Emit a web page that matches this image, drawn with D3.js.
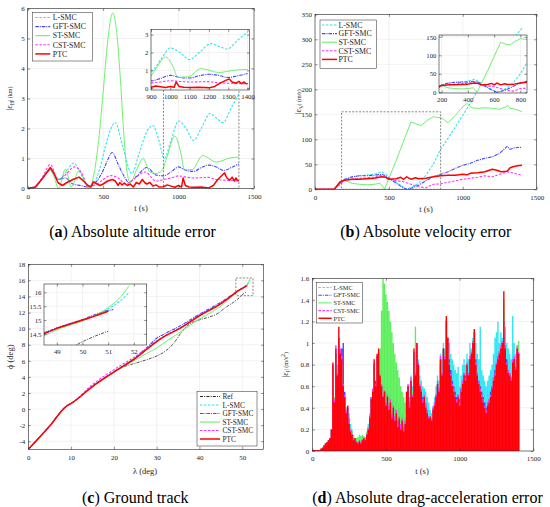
<!DOCTYPE html>
<html>
<head>
<meta charset="utf-8">
<script src="https://cdn.jsdelivr.net/npm/d3@7"></script>
<style>
  body { margin: 0; background: #fff; }
</style>
</head>
<body>
<svg width="550" height="507" font-family="Liberation Serif"></svg>
<script>
// ---- (a) altitude error, km ----
var altT_L = [0,40,100,150,210,260,305,350,400,440,480,520,580,630,690,740,790,830,870,905,950,1000,1050,1100,1150,1210,1250,1295,1350,1400];
var altV_L = [0,0,0.35,0.6,0.3,0.6,0.85,0.5,0.1,0.2,0.7,1.5,2.2,1.4,0.5,1.2,1.9,2.1,1.6,1.0,1.6,2.25,2.0,1.6,2.0,2.5,2.35,2.2,2.7,3.15];
var altT_G = [0,50,100,150,200,250,300,350,400,450,500,530,560,600,640,670,720,790,850,900,950,1000,1050,1100,1150,1200,1250,1300,1350,1400];
var altV_G = [0,0.05,0.35,0.62,0.3,0.35,0.15,0.1,0.05,0.2,0.6,0.95,1.2,0.8,0.4,0.2,0.4,0.7,0.45,0.42,0.55,0.72,0.6,0.57,0.7,0.78,0.72,0.6,0.7,0.82];
var altT_S = [0,50,100,150,180,205,250,290,340,405,440,470,500,530,564,590,615,640,660,680,720,765,810,850,890,920,975,1010,1040,1090,1160,1250,1340,1400];
var altV_S = [0,0.05,0.35,0.63,0.3,0,0.65,0.05,0.6,0,0.5,1.6,3.2,4.9,5.85,5.2,3.6,1.6,0.5,0.2,0.6,1.0,0.55,0.5,0.6,1.0,1.75,1.3,0.62,0.63,1.1,0.88,1.02,1.05];
var altT_C = [0,50,100,150,200,250,310,360,400,450,500,550,600,650,700,780,850,900,950,1000,1050,1100,1200,1250,1300,1400];
var altV_C = [0,0.05,0.4,0.8,0.3,0.45,0.72,0.5,0.05,0.12,0.3,0.43,0.35,0.15,0.3,0.55,0.25,0.3,0.35,0.42,0.38,0.35,0.37,0.3,0.28,0.25];
var altT_P = [0,50,100,150,175,200,230,260,300,340,370,400,420,435,460,480,500,530,560,580,600,610,625,640,660,680,700,720,740,760,775,790,810,830,850,870,900,925,950,975,1000,1020,1030,1045,1070,1100,1150,1200,1230,1260,1290,1305,1320,1340,1355,1370,1380,1390,1400];
var altV_P = [0,0.05,0.35,0.7,0.5,0.2,0.1,0.2,0.3,0.38,0.25,0.1,0.05,0.22,0.15,0.1,0.15,0.25,0.3,0.25,0.1,0.2,0.12,0.18,0.1,0.15,0.05,0.2,0.15,0.3,0.2,0.15,0.2,0.08,0.12,0.05,0.06,0.12,0.08,0.04,0.1,0.05,0.35,0.1,0.05,0.04,0.05,0.02,0.1,0.3,0.45,0.52,0.35,0.28,0.38,0.25,0.35,0.27,0.25];

// ---- (b) velocity error, m/s ----
var velT_L = [0,130,170,200,300,400,450,480,520,560,600,620,660,700,750,800,850,900,950,1000,1050,1100,1200,1300,1400];
var velV_L = [0,0,12,20,27,30,35,30,20,12,4,0,5,12,28,50,80,102,125,148,172,197,245,288,322];
var velT_G = [0,130,170,200,250,300,350,400,450,480,520,560,600,620,650,700,750,800,850,900,950,1000,1050,1100,1150,1200,1250,1300,1320,1350,1400];
var velV_G = [0,0,12,20,25,27,27,28,30,27,18,10,3,0,2,8,17,25,30,35,42,48,52,58,62,65,72,86,80,83,84];
var velT_S = [0,130,170,200,250,300,350,400,440,460,470,500,550,600,650,690,720,760,800,850,870,900,950,1000,1030,1060,1100,1150,1200,1250,1290,1305,1320,1360,1400];
var velV_S = [0,0,12,18,12,10,9,10,12,5,0,22,58,97,135,130,128,138,145,143,140,133,148,165,172,163,162,163,162,160,165,168,162,160,155];
var velT_C = [0,130,170,200,300,400,450,500,550,600,650,700,750,800,850,900,950,1000,1050,1100,1150,1200,1250,1300,1350,1400];
var velV_C = [0,0,10,18,22,24,28,20,17,15,10,5,3,10,11,14,17,20,22,24,27,25,30,35,32,28];
var velT_P = [0,130,170,200,250,300,350,400,450,480,500,550,580,600,620,650,680,700,750,800,850,900,950,1000,1030,1050,1100,1150,1200,1230,1260,1300,1320,1340,1370,1400];
var velV_P = [0,0,15,18,20,20,21,22,25,24,20,21,24,20,25,20,23,21,22,25,27,28,28,30,29,32,33,35,40,38,35,36,43,45,47,48];

// ---- (c) ground track, deg ----
var gtLam_R = [0,5,9,10,15,20,22,25,28,30,32,34,36,38,40,42,44,46,48,49,50,51];
var gtPhi_R = [-5,-2.1,0.4,0.7,2.8,4.6,5.2,5.7,6.2,6.6,7.2,8.2,9.7,10.7,11.1,11.4,11.8,12.6,13.3,13.7,14.22,14.6];
var gtLam_L = [0,5,9,10,15,20,25,30,32,35,40,45,48,49,50,50.5,51,51.5,51.8];
var gtPhi_L = [-5,-2.1,0.4,0.7,2.85,4.65,6.35,8.5,9.15,10.0,11.7,13.15,14.3,14.7,15.0,15.18,15.4,15.72,15.98];
var gtLam_G = [0,5,9,10,15,20,25,28,30,32,35,40,45,48,49,50,50.5,51,51.2];
var gtPhi_G = [-5,-2.1,0.4,0.7,2.85,4.65,6.4,7.8,8.8,9.4,10.2,11.8,13.3,14.35,14.72,15.02,15.2,15.34,15.38];
var gtLam_S = [0,5,9,10,15,20,25,28,30,33,35,38,40,43,45,48,49,50,50.5,51,51.5,51.8];
var gtPhi_S = [-5,-2.1,0.4,0.7,2.8,4.6,6.1,7.0,7.6,8.7,9.4,10.5,11.2,12.1,12.8,14.2,14.65,14.97,15.17,15.45,15.85,16.22];
var gtLam_C = [0,5,9,10,15,20,25,30,32,35,40,45,48,49,50,50.5,51];
var gtPhi_C = [-5,-2.1,0.4,0.7,3.05,4.9,6.55,8.45,9.1,9.95,11.65,13.1,14.3,14.7,15.0,15.16,15.32];
var gtLam_P = [0,5,9,10,15,20,25,30,32,35,40,45,48,49,50,50.5,51];
var gtPhi_P = [-5,-2.1,0.4,0.7,2.8,4.6,6.3,8.4,9.1,9.9,11.6,13.1,14.3,14.7,15.0,15.15,15.32];

// ---- (d) drag-acceleration error, m/s^2, one value every 10 s ----
var dragT = d3.range(0, 1401, 10);
var dragL = [0.01,0.01,0.01,0.01,0.01,0.01,0.02,0.03,0.05,0.07,
  0.08,0.1,0.12,0.2,0.8,0.5,0.9,0.8,1.05,0.9,
  0.8,0.6,0.45,0.4,0.4,0.35,0.25,0.2,0.15,0.12,
  0.1,0.08,0.1,0.1,0.12,0.13,0.12,0.18,0.25,0.35,
  0.5,0.55,0.8,0.65,0.85,0.9,0.7,0.6,0.55,0.58,
  0.5,0.52,0.45,0.5,0.42,0.45,0.35,0.4,0.3,0.32,
  0.28,0.3,0.25,0.3,0.55,0.6,0.5,0.7,0.6,0.9,
  0.75,0.95,0.85,0.7,0.65,0.6,0.58,0.55,0.5,0.45,
  0.38,0.35,0.42,0.5,0.6,0.7,0.65,0.9,0.85,1.0,
  0.95,1.2,1.05,1.0,0.9,0.85,0.8,0.75,0.72,0.78,
  0.6,0.7,0.8,0.85,0.8,0.9,0.85,1.0,0.95,1.05,
  1.1,1.0,0.9,0.85,1.15,0.75,0.7,0.65,0.6,0.65,
  0.7,0.75,0.8,0.9,1.05,1.1,1.2,1.0,1.1,1.05,
  1.3,1.15,1.0,0.95,0.9,0.85,1.25,1.0,0.9,0.85,
  0.8];
var dragG = [0.01,0.01,0.01,0.01,0.01,0.01,0.02,0.03,0.05,0.07,
  0.08,0.1,0.12,0.2,0.78,0.5,0.9,0.75,1.05,0.9,
  0.95,1.0,0.55,0.4,0.4,0.3,0.2,0.15,0.12,0.1,
  0.08,0.07,0.09,0.08,0.1,0.12,0.12,0.16,0.22,0.32,
  0.5,0.55,0.8,0.65,0.88,0.9,0.72,0.65,0.6,0.6,
  0.55,0.6,0.5,0.55,0.45,0.5,0.4,0.45,0.38,0.4,
  0.32,0.35,0.3,0.3,0.5,0.6,0.45,0.62,0.5,0.9,
  0.7,0.95,0.8,0.6,0.55,0.5,0.5,0.42,0.38,0.32,
  0.3,0.3,0.4,0.45,0.52,0.6,0.58,0.8,0.72,0.92,
  0.9,1.2,1.0,0.85,0.75,0.65,0.6,0.55,0.5,0.52,
  0.48,0.58,0.65,0.72,0.7,0.78,0.72,0.85,0.88,0.95,
  1.1,0.85,0.72,0.65,0.6,0.55,0.5,0.45,0.4,0.45,
  0.48,0.55,0.6,0.68,0.75,0.8,0.88,0.92,0.95,1.0,
  1.1,0.98,0.85,0.75,0.72,0.68,0.8,0.85,0.78,0.92,
  0.9];
var dragS = [0.01,0.01,0.01,0.01,0.01,0.01,0.02,0.03,0.05,0.07,
  0.08,0.1,0.12,0.2,0.75,0.5,0.9,0.75,1.0,0.85,
  0.8,0.55,0.45,0.4,0.38,0.3,0.22,0.18,0.14,0.12,
  0.12,0.13,0.15,0.14,0.15,0.14,0.13,0.18,0.22,0.3,
  0.45,0.5,0.7,0.6,0.8,0.85,0.95,1.3,1.6,1.55,
  1.45,1.38,1.3,1.2,1.1,1.0,0.9,0.82,0.75,0.68,
  0.6,0.55,0.5,0.45,0.4,0.35,0.45,0.6,0.55,0.9,
  1.15,1.0,0.8,0.6,0.55,0.45,0.5,0.4,0.35,0.3,
  0.32,0.28,0.38,0.42,0.5,0.62,0.55,0.85,0.7,0.95,
  0.9,1.2,1.0,0.8,0.7,0.6,0.55,0.5,0.45,0.5,
  0.42,0.55,0.62,0.7,0.65,0.8,0.7,0.85,0.9,1.0,
  1.1,0.8,0.7,0.62,0.55,0.5,0.45,0.4,0.35,0.42,
  0.45,0.5,0.58,0.65,0.7,0.8,0.85,0.9,0.95,1.0,
  1.4,0.95,0.8,0.72,0.7,0.65,0.82,0.85,0.75,0.95,
  1.02];
var dragC = [0.01,0.01,0.01,0.01,0.01,0.01,0.02,0.03,0.05,0.07,
  0.08,0.1,0.12,0.2,0.8,0.48,0.98,0.72,1.0,0.95,
  0.88,0.62,0.52,0.38,0.42,0.3,0.2,0.16,0.12,0.11,
  0.09,0.08,0.1,0.08,0.11,0.12,0.11,0.16,0.21,0.3,
  0.5,0.58,0.82,0.62,0.88,0.92,0.68,0.62,0.52,0.56,
  0.45,0.52,0.42,0.48,0.35,0.42,0.32,0.38,0.28,0.32,
  0.25,0.3,0.22,0.28,0.55,0.62,0.45,0.68,0.52,0.92,
  0.72,1.0,0.82,0.62,0.58,0.48,0.52,0.45,0.38,0.32,
  0.3,0.3,0.4,0.45,0.52,0.65,0.58,0.88,0.72,0.95,
  0.88,1.22,1.05,0.82,0.72,0.62,0.58,0.52,0.48,0.52,
  0.45,0.58,0.65,0.72,0.68,0.82,0.72,0.88,0.92,1.02,
  1.12,0.82,0.72,0.65,0.58,0.52,0.48,0.42,0.38,0.45,
  0.48,0.52,0.6,0.68,0.72,0.82,0.88,0.92,0.98,1.02,
  1.2,0.98,0.82,0.75,0.72,0.68,0.85,0.88,0.78,0.98,
  0.92];
var dragP = [0.01,0.01,0.01,0.01,0.01,0.01,0.02,0.03,0.05,0.07,
  0.08,0.1,0.12,0.2,0.82,0.45,0.95,0.7,1.15,0.9,
  0.85,0.6,0.5,0.35,0.42,0.25,0.18,0.15,0.1,0.12,
  0.08,0.07,0.09,0.07,0.1,0.12,0.1,0.15,0.2,0.3,
  0.48,0.55,0.85,0.6,0.9,0.95,0.7,0.6,0.5,0.55,
  0.42,0.5,0.38,0.45,0.3,0.4,0.28,0.35,0.22,0.3,
  0.2,0.28,0.18,0.25,0.55,0.6,0.4,0.65,0.5,0.95,
  0.7,1.0,0.8,0.6,0.55,0.45,0.5,0.4,0.35,0.3,
  0.32,0.28,0.38,0.42,0.5,0.62,0.55,0.85,0.7,0.95,
  0.85,1.25,1.05,0.8,0.7,0.6,0.55,0.5,0.45,0.5,
  0.42,0.55,0.62,0.7,0.65,0.8,0.7,0.85,0.9,1.0,
  1.13,0.8,0.7,0.62,0.55,0.5,0.45,0.4,0.35,0.42,
  0.45,0.5,0.58,0.65,0.7,0.8,0.85,0.9,0.95,1.0,
  1.48,0.95,0.8,0.72,0.7,0.65,0.82,0.85,0.75,0.95,
  0.9];

var FONT = "Liberation Serif";
var INK = "#262626";

var styles = {
  R:   {name: "Ref",     color: "#222222", dash: "3,1.2,1,1.2", w: 0.8},
  L:   {name: "L-SMC",   color: "#2fe6f2", dash: "2.5,1.5",     w: 1.1},
  G:   {name: "GFT-SMC", color: "#4646ff", dash: "3.5,1,1,1",   w: 1.1},
  S:   {name: "ST-SMC",  color: "#5cef5c", dash: null,          w: 0.9},
  C:   {name: "CST-SMC", color: "#ff35ff", dash: "2.5,1.5",     w: 1.1},
  P:   {name: "PTC",     color: "#ff0000", dash: null,          w: 1.5}
};

var svg = d3.select("svg");
var clipN = 0;

// MATLAB-like axes: white bg, grid, lines group, box with inward ticks
function axes(o) {
  var x = d3.scaleLinear().domain(o.xd).range([o.x0, o.x1]);
  var y = d3.scaleLinear().domain(o.yd).range([o.y0, o.y1]);
  var g = svg.append("g");
  var id = "clip" + (clipN++);
  g.append("clipPath").attr("id", id).append("rect")
    .attr("x", o.x0).attr("y", o.y1).attr("width", o.x1 - o.x0).attr("height", o.y0 - o.y1);
  g.append("rect").attr("x", o.x0).attr("y", o.y1).attr("width", o.x1 - o.x0).attr("height", o.y0 - o.y1)
    .attr("fill", "#fff");
  var grid = g.append("g").attr("stroke", "#e4e4e4").attr("stroke-width", 0.5);
  grid.selectAll(".gx").data(o.xt).join("line")
    .attr("x1", x).attr("x2", x).attr("y1", o.y0).attr("y2", o.y1);
  grid.selectAll(".gy").data(o.yt).join("line")
    .attr("y1", y).attr("y2", y).attr("x1", o.x0).attr("x2", o.x1);
  var plot = g.append("g").attr("clip-path", "url(#" + id + ")");
  var a = g.append("g");
  var fmt = function (d) { return String(d); };
  var none = function () { return ""; };
  var tk = o.tk || 2.5;
  a.append("g").attr("transform", "translate(0," + o.y0 + ")")
    .call(d3.axisBottom(x).tickValues(o.xt).tickFormat(fmt).tickSizeInner(-tk).tickSizeOuter(0).tickPadding(o.px || 5.5));
  a.append("g").attr("transform", "translate(0," + o.y1 + ")")
    .call(d3.axisTop(x).tickValues(o.xt).tickFormat(none).tickSizeInner(-tk).tickSizeOuter(0));
  a.append("g").attr("transform", "translate(" + o.x0 + ",0)")
    .call(d3.axisLeft(y).tickValues(o.yt).tickFormat(fmt).tickSizeInner(-tk).tickSizeOuter(0).tickPadding(o.py || 3));
  a.append("g").attr("transform", "translate(" + o.x1 + ",0)")
    .call(d3.axisRight(y).tickValues(o.yt).tickFormat(none).tickSizeInner(-tk).tickSizeOuter(0));
  a.selectAll(".domain").remove();
  a.selectAll("g").attr("font-family", FONT);
  a.selectAll("line").attr("stroke", INK).attr("stroke-width", 0.5);
  a.selectAll("text").attr("font-family", FONT).attr("font-size", o.fs || 7).attr("fill", INK);
  a.append("rect").attr("x", o.x0).attr("y", o.y1).attr("width", o.x1 - o.x0).attr("height", o.y0 - o.y1)
    .attr("fill", "none").attr("stroke", INK).attr("stroke-width", 0.6);
  return {x: x, y: y, plot: plot, g: g};
}

function series(ax, key, xs, ys, curve) {
  var s = styles[key];
  var line = d3.line().x(function (d) { return ax.x(d[0]); }).y(function (d) { return ax.y(d[1]); })
    .curve(curve || d3.curveMonotoneX);
  ax.plot.append("path").datum(d3.zip(xs, ys)).attr("d", line)
    .attr("fill", "none").attr("stroke", s.color).attr("stroke-width", s.w)
    .attr("stroke-dasharray", s.dash).attr("stroke-linejoin", "round");
}

function stems(ax, key, xs, ys) {
  var s = styles[key];
  var d = d3.zip(xs, ys).map(function (p) {
    return "M" + ax.x(p[0]) + "," + ax.y(0) + "V" + ax.y(p[1]);
  }).join("");
  ax.plot.append("path").attr("d", d).attr("stroke", s.color).attr("stroke-width", 1.4).attr("fill", "none");
}

function dashBox(ax, x0, x1, y0, y1) {
  ax.plot.append("rect")
    .attr("x", ax.x(x0)).attr("y", ax.y(y1))
    .attr("width", ax.x(x1) - ax.x(x0)).attr("height", ax.y(y0) - ax.y(y1))
    .attr("fill", "none").attr("stroke", "#555").attr("stroke-width", 0.7).attr("stroke-dasharray", "2,1.5");
}

function legend(o, keys) {
  var g = svg.append("g");
  g.append("rect").attr("x", o.x).attr("y", o.y).attr("width", o.w).attr("height", o.h)
    .attr("fill", "#fff").attr("stroke", INK).attr("stroke-width", 0.5);
  keys.forEach(function (k, i) {
    var s = styles[k], yy = o.y + o.top + i * o.dy;
    g.append("line").attr("x1", o.x + o.l1).attr("x2", o.x + o.l2).attr("y1", yy).attr("y2", yy)
      .attr("stroke", s.color).attr("stroke-width", Math.max(s.w, 1)).attr("stroke-dasharray", s.dash);
    g.append("text").attr("x", o.x + o.tx).attr("y", yy).attr("dy", "0.35em")
      .attr("font-family", FONT).attr("fill", INK).attr("font-size", o.fs).text(s.name);
  });
}

function xLabel(x, y, txt) {
  svg.append("text").attr("x", x).attr("y", y).attr("text-anchor", "middle")
    .attr("font-family", FONT).attr("fill", INK).attr("font-size", 8.5).text(txt);
}

function yLabel(x, y, parts) {
  var t = svg.append("text").attr("transform", "translate(" + x + "," + y + ") rotate(-90)")
    .attr("text-anchor", "middle").attr("font-family", FONT).attr("fill", INK).attr("font-size", 8.5);
  parts.forEach(function (p) {
    var sp = t.append("tspan").text(p[0]);
    if (p[1]) sp.attr("dy", p[1]).attr("font-size", 6);
    if (p[2]) sp.attr("dy", p[2]);
  });
}

function caption(cx, by, letter, rest) {
  var t = svg.append("text").attr("x", cx).attr("y", by).attr("text-anchor", "middle")
    .attr("font-family", FONT).attr("fill", "#000").attr("font-size", 16);
  t.append("tspan").text("(");
  t.append("tspan").attr("font-weight", "bold").text(letter);
  t.append("tspan").text(") " + rest);
}

var order5 = ["L", "G", "S", "C", "P"];

// ---------- (a) ----------
var A = axes({x0: 27.7, x1: 254, y0: 188.5, y1: 8.5, xd: [0, 1500], yd: [0, 6],
  xt: [0, 500, 1000, 1500], yt: [0, 1, 2, 3, 4, 5, 6]});
var altData = {L: [altT_L, altV_L], G: [altT_G, altV_G], S: [altT_S, altV_S], C: [altT_C, altV_C], P: [altT_P, altV_P]};
order5.forEach(function (k) { series(A, k, altData[k][0], altData[k][1], k === "P" ? d3.curveLinear : null); });
dashBox(A, 900, 1400, 0, 3.3);
legend({x: 32.3, y: 12.3, w: 60, h: 48.7, top: 5.2, dy: 9.1, l1: 3, l2: 18, tx: 20.5, fs: 7.8}, order5);
var Ai = axes({x0: 151, x1: 249.5, y0: 90, y1: 29.3, xd: [900, 1410], yd: [-0.1, 3.3],
  xt: [900, 1000, 1100, 1200, 1300, 1400], yt: [0, 1, 2, 3], px: 4, py: 2.5, fs: 6.8});
order5.forEach(function (k) { series(Ai, k, altData[k][0], altData[k][1], k === "P" ? d3.curveLinear : null); });
xLabel(141, 211, "t (s)");
yLabel(12, 98.5, [["|ε"], ["H", 2], ["| (km)", -2]]);
caption(132.5, 237, "a", "Absolute altitude error");

// ---------- (b) ----------
var B = axes({x0: 315, x1: 536.7, y0: 189.3, y1: 14.3, xd: [0, 1500], yd: [0, 350],
  xt: [0, 500, 1000, 1500], yt: [0, 50, 100, 150, 200, 250, 300, 350]});
var velData = {L: [velT_L, velV_L], G: [velT_G, velV_G], S: [velT_S, velV_S], C: [velT_C, velV_C], P: [velT_P, velV_P]};
order5.forEach(function (k) { series(B, k, velData[k][0], velData[k][1], d3.curveLinear); });
dashBox(B, 180, 850, 0, 155);
legend({x: 320, y: 20, w: 56.7, h: 48.3, top: 5, dy: 8.6, l1: 2, l2: 17, tx: 18.5, fs: 7.8}, order5);
var Bi = axes({x0: 439, x1: 527, y0: 93, y1: 35, xd: [180, 850], yd: [-2, 155],
  xt: [200, 400, 600, 800], yt: [0, 50, 100, 150], px: 4, py: 2.5, fs: 6.8});
order5.forEach(function (k) { series(Bi, k, velData[k][0], velData[k][1], d3.curveLinear); });
xLabel(426, 212, "t (s)");
yLabel(301, 101.8, [["|ε"], ["V", 2], ["| (m/s)", -2]]);
caption(425.7, 237, "b", "Absolute velocity error");

// ---------- (c) ----------
var C = axes({x0: 28.3, x1: 263.7, y0: 449.3, y1: 264.3, xd: [0, 55], yd: [-5, 18],
  xt: [0, 10, 20, 30, 40, 50], yt: [-4, -2, 0, 2, 4, 6, 8, 10, 12, 14, 16, 18]});
var gtData = {R: [gtLam_R, gtPhi_R], L: [gtLam_L, gtPhi_L], G: [gtLam_G, gtPhi_G], S: [gtLam_S, gtPhi_S], C: [gtLam_C, gtPhi_C], P: [gtLam_P, gtPhi_P]};
var order6 = ["R", "L", "G", "S", "C", "P"];
order6.forEach(function (k) { series(C, k, gtData[k][0], gtData[k][1]); });
dashBox(C, 48.5, 52.5, 14.1, 16.3);
legend({x: 197, y: 391.5, w: 60, h: 54.5, top: 5, dy: 8.5, l1: 3, l2: 23, tx: 25.5, fs: 7.3}, order6);
var Ci = axes({x0: 44, x1: 146.7, y0: 345, y1: 284, xd: [48.5, 52.5], yd: [14.1, 16.3],
  xt: [49, 50, 51, 52], yt: [14.5, 15, 15.5, 16], px: 4, py: 2.5, fs: 6.8});
order6.forEach(function (k) { series(Ci, k, gtData[k][0], gtData[k][1]); });
xLabel(145, 474, "λ (deg)");
yLabel(13, 356.8, [["ϕ (deg)"]]);
caption(135.3, 502.5, "c", "Ground track");

// ---------- (d) ----------
var D = axes({x0: 312.3, x1: 533.3, y0: 451, y1: 278.3, xd: [0, 1500], yd: [0, 1.6],
  xt: [0, 500, 1000, 1500], yt: [0, 0.2, 0.4, 0.6, 0.8, 1, 1.2, 1.4, 1.6]});
var dragData = {L: dragL, G: dragG, S: dragS, C: dragC, P: dragP};
order5.forEach(function (k) { stems(D, k, dragT, dragData[k]); });
legend({x: 316.7, y: 282.3, w: 45.6, h: 40.7, top: 5.2, dy: 7.7, l1: 1.7, l2: 15, tx: 16.7, fs: 6.3}, order5);
xLabel(422, 474, "t (s)");
yLabel(288, 364.7, [["|ε"], ["l", 2], ["| (m/s", -2], ["2", -3], [")", 3]]);
caption(427.5, 502.5, "d", "Absolute drag-acceleration error");
</script>
</body>
</html>
